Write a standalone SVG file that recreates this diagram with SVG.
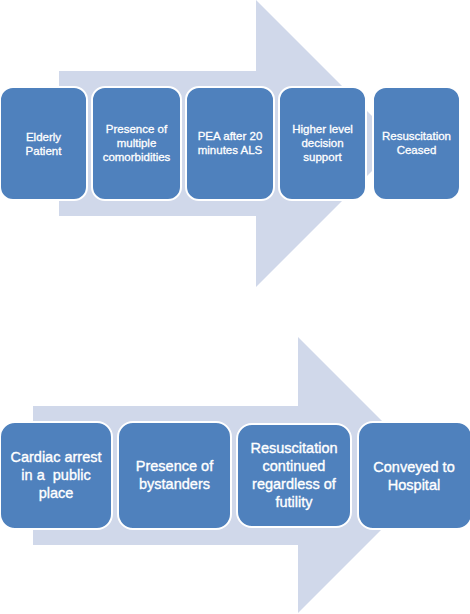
<svg xmlns="http://www.w3.org/2000/svg" width="470" height="614" viewBox="0 0 470 614">
<style>
.arrow{fill:#D0D8EA}
.box{fill:#4F81BD;stroke:#FFFFFF;stroke-width:2}
.t1{font-family:"Liberation Sans",Arial,sans-serif;font-size:11.5px;fill:#FFFFFF;stroke:#FFFFFF;stroke-width:0.3;text-anchor:middle}
.t2{font-family:"Liberation Sans",Arial,sans-serif;font-size:14.5px;fill:#FFFFFF;stroke:#FFFFFF;stroke-width:0.35;text-anchor:middle}
</style>
<rect width="470" height="614" fill="#FFFFFF"/>
<g id="arrow-top">
<path class="arrow" d="M59,71 H256 V0 L399.5,143.5 L256,287 V216 H59 Z"/>
</g>
<g id="arrow-bottom">
<path class="arrow" d="M33,406 H298 V337 L436,475 L298,613 V545 H33 Z"/>
</g>
<g id="connectors"></g>
<g id="n1">
<rect class="box" x="0" y="87" width="87" height="113" rx="13"/>
<text class="t1" x="43.5" y="141">Elderly</text>
<text class="t1" x="43.5" y="155">Patient</text>
</g>
<g id="n2">
<rect class="box" x="92" y="87" width="89" height="113" rx="13"/>
<text class="t1" x="136.5" y="133">Presence of</text>
<text class="t1" x="136.5" y="147">multiple</text>
<text class="t1" x="136.5" y="161">comorbidities</text>
</g>
<g id="n3">
<rect class="box" x="186" y="87" width="88" height="113" rx="13"/>
<text class="t1" x="230" y="140">PEA after 20</text>
<text class="t1" x="230" y="154">minutes ALS</text>
</g>
<g id="n4">
<rect class="box" x="279" y="87" width="87" height="113" rx="13"/>
<text class="t1" x="322.5" y="133">Higher level</text>
<text class="t1" x="322.5" y="147">decision</text>
<text class="t1" x="322.5" y="161">support</text>
</g>
<g id="n5">
<rect class="box" x="373" y="87" width="87" height="113" rx="13"/>
<text class="t1" x="416.5" y="140">Resuscitation</text>
<text class="t1" x="416.5" y="154">Ceased</text>
</g>
<g id="m1">
<rect class="box" x="0" y="422" width="112" height="107" rx="15"/>
<text class="t2" x="56" y="462">Cardiac arrest</text>
<text class="t2" x="56" y="480">in a&#160; public</text>
<text class="t2" x="56" y="498">place</text>
</g>
<g id="m2">
<rect class="box" x="118" y="422" width="113" height="107" rx="15"/>
<text class="t2" x="174.5" y="471">Presence of</text>
<text class="t2" x="174.5" y="489">bystanders</text>
</g>
<g id="m3">
<rect class="box" x="237" y="424" width="114" height="103" rx="15"/>
<text class="t2" x="294" y="453">Resuscitation</text>
<text class="t2" x="294" y="471">continued</text>
<text class="t2" x="294" y="489">regardless of</text>
<text class="t2" x="294" y="507">futility</text>
</g>
<g id="m4">
<rect class="box" x="358" y="422" width="114" height="107" rx="15"/>
<text class="t2" x="414" y="472">Conveyed to</text>
<text class="t2" x="414" y="490">Hospital</text>
</g>
</svg>
